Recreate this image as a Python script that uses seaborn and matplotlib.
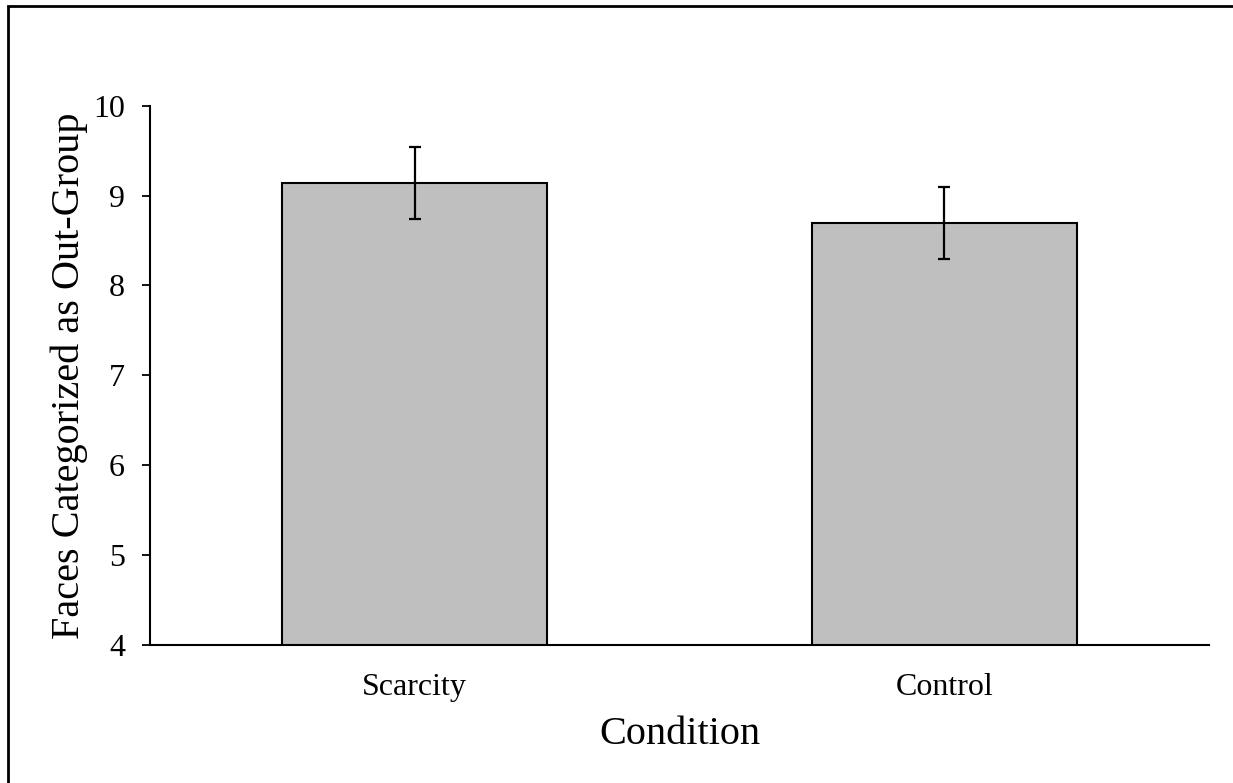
import matplotlib
matplotlib.use("Agg")
import matplotlib.pyplot as plt
import seaborn as sns
import pandas as pd
from matplotlib.patches import Rectangle

# Data
conditions = ["Scarcity", "Control"]
means = [9.14, 8.695]
errors = [0.395, 0.395]

df = pd.DataFrame({"Condition": conditions, "Faces": means})

sns.set_theme(style="white")
plt.rcParams['font.family'] = ['Liberation Serif', 'DejaVu Serif']

fig = plt.figure(figsize=(12.33, 7.83), dpi=100)
ax = fig.add_axes([150 / 1233, 1 - 645 / 783, (1209 - 150) / 1233, (645 - 105.7) / 783])

sns.barplot(data=df, x="Condition", y="Faces", color="#BFBFBF", edgecolor="black",
            linewidth=1.5, width=0.5, errorbar=None, saturation=1, ax=ax)
ax.errorbar(range(len(conditions)), means, yerr=errors, fmt="none", ecolor="black",
            elinewidth=1.6, capsize=4.4, capthick=1.6)

ax.set_xlim(-0.5, 1.5)
ax.set_ylim(4, 10)
ax.set_yticks([4, 5, 6, 7, 8, 9, 10])
ax.tick_params(axis="y", left=True, length=6, width=1.3, pad=12, labelsize=23, colors="black")
ax.tick_params(axis="x", bottom=False, pad=14, labelsize=23, colors="black")

for s in ["top", "right"]:
    ax.spines[s].set_visible(False)
for s in ["left", "bottom"]:
    ax.spines[s].set_color("black")
    ax.spines[s].set_linewidth(1.5)

ax.set_xlabel("Condition", fontsize=29, color="black", labelpad=10)
ax.set_ylabel("Faces Categorized as Out-Group", fontsize=29, color="black", labelpad=4)

# outer frame of the figure
fig.patches.append(Rectangle((8 / 1233, -0.1), 1.2, 1.1 - 6 / 783, transform=fig.transFigure,
                             fill=False, edgecolor="black", linewidth=2))

fig.savefig("out.png", dpi=100)
